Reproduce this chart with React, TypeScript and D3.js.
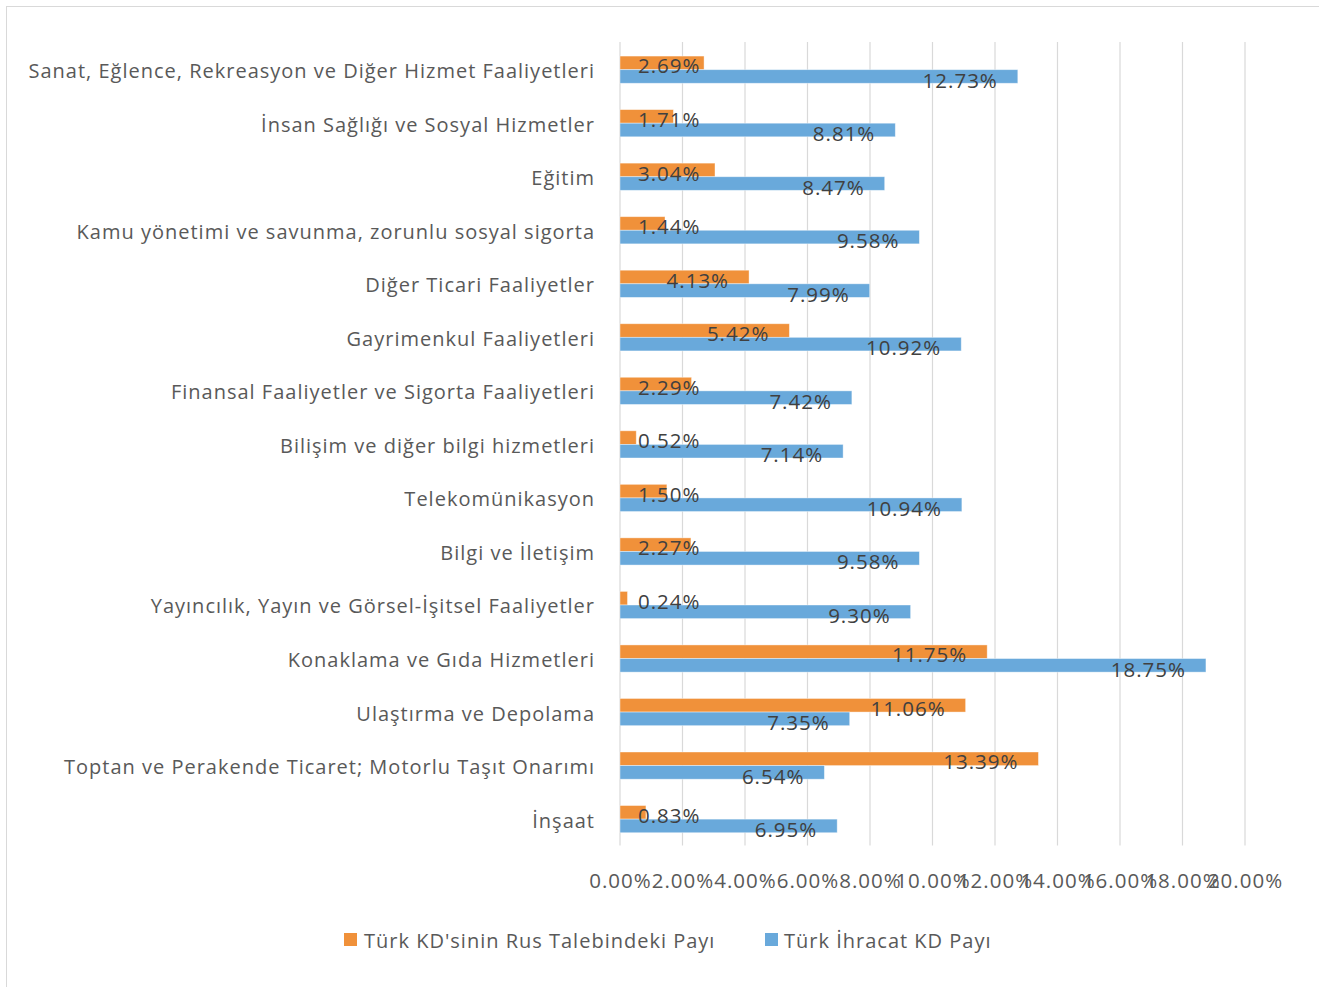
import React from 'react';
import * as d3 from 'd3';

// Sectors, listed from the top of the chart to the bottom
const categories = [
  'Sanat, Eğlence, Rekreasyon ve Diğer Hizmet Faaliyetleri',
  'İnsan Sağlığı ve Sosyal Hizmetler',
  'Eğitim',
  'Kamu yönetimi ve savunma, zorunlu sosyal sigorta',
  'Diğer Ticari Faaliyetler',
  'Gayrimenkul Faaliyetleri',
  'Finansal Faaliyetler ve Sigorta Faaliyetleri',
  'Bilişim ve diğer bilgi hizmetleri',
  'Telekomünikasyon',
  'Bilgi ve İletişim',
  'Yayıncılık, Yayın ve Görsel-İşitsel Faaliyetler',
  'Konaklama ve Gıda Hizmetleri',
  'Ulaştırma ve Depolama',
  'Toptan ve Perakende Ticaret; Motorlu Taşıt Onarımı',
  'İnşaat',
];

// Shares in percent
const rusTalebiPayi = [2.69, 1.71, 3.04, 1.44, 4.13, 5.42, 2.29, 0.52, 1.5, 2.27, 0.24, 11.75, 11.06, 13.39, 0.83];
const ihracatPayi = [12.73, 8.81, 8.47, 9.58, 7.99, 10.92, 7.42, 7.14, 10.94, 9.58, 9.3, 18.75, 7.35, 6.54, 6.95];

const xTickValues = [0, 2, 4, 6, 8, 10, 12, 14, 16, 18, 20];

const seriesNames = ["Türk KD'sinin Rus Talebindeki Payı", 'Türk İhracat KD Payı'];
const seriesColors = ['#F0913A', '#69A9DB'];

const W = 1319;
const H = 987;
const FONT = "'Open Sans', sans-serif";
const CAT_SIZE = 20;
const LABEL_SIZE = 20.5;
const TICK_SIZE = 20.5;
const SPACING = 1;

let measureCtx: CanvasRenderingContext2D | null = null;
function textWidth(text: string, size: number): number {
  if (!measureCtx) {
    const c = document.createElement('canvas');
    measureCtx = c.getContext('2d');
  }
  if (!measureCtx) return text.length * (size * 0.55 + SPACING);
  measureCtx.font = `${size}px ${FONT}`;
  return measureCtx.measureText(text).width + text.length * SPACING;
}

const fmt = (v: number) => `${v.toFixed(2)}%`;

export default function App() {
  const x = d3.scaleLinear().domain([0, 20]).range([620, 1245]);
  const y = d3.scaleBand<string>().domain(categories).range([42.5, 845.5]).padding(0);
  const barH = 13.6;

  // data label: right edge 20px inside the bar end, never left of the first inner margin
  const labelX = (v: number, text: string, size: number) => {
    const w = textWidth(text, size);
    const end = x(v) - 20;
    return Math.max(end - w, 638);
  };

  return (
    <svg
      width={W}
      height={H}
      style={{ position: 'absolute', left: 0, top: 0, background: '#fff' }}
      fontFamily={FONT}
      letterSpacing={SPACING}
    >
      <rect x={6.5} y={6.5} width={W + 10} height={H + 10} fill="#fff" stroke="#d9d9d9" strokeWidth={1} />

      {/* vertical gridlines */}
      {xTickValues.map((t) => (
        <line key={t} x1={x(t)} x2={x(t)} y1={42} y2={845.5} stroke="#d9d9d9" strokeWidth={1.2} />
      ))}

      {/* category labels */}
      {categories.map((c) => (
        <text
          key={c}
          x={595}
          y={(y(c) ?? 0) + y.bandwidth() / 2 + 3.5}
          textAnchor="end"
          dominantBaseline="middle"
          fontSize={CAT_SIZE}
          fill="#595959"
        >
          {c}
        </text>
      ))}

      {/* bars */}
      {categories.map((c, i) => {
        const cy = (y(c) ?? 0) + y.bandwidth() / 2 + 0.4;
        return (
          <g key={c}>
            <rect
              x={x(0)}
              y={cy - barH}
              width={x(rusTalebiPayi[i]) - x(0)}
              height={barH}
              fill={seriesColors[0]}
              stroke="#fff"
              strokeOpacity={0.5}
              strokeWidth={0.8}
            />
            <rect
              x={x(0)}
              y={cy}
              width={x(ihracatPayi[i]) - x(0)}
              height={barH}
              fill={seriesColors[1]}
              stroke="#fff"
              strokeOpacity={0.5}
              strokeWidth={0.8}
            />
          </g>
        );
      })}

      {/* data labels */}
      {categories.map((c, i) => {
        const cy = (y(c) ?? 0) + y.bandwidth() / 2 + 0.4;
        const t1 = fmt(rusTalebiPayi[i]);
        const t2 = fmt(ihracatPayi[i]);
        return (
          <g key={c} fontSize={LABEL_SIZE} fill="#404040">
            <text x={labelX(rusTalebiPayi[i], t1, LABEL_SIZE)} y={cy - barH + 17.4}>
              {t1}
            </text>
            <text x={labelX(ihracatPayi[i], t2, LABEL_SIZE)} y={cy + 18}>
              {t2}
            </text>
          </g>
        );
      })}

      {/* x-axis tick labels */}
      {xTickValues.map((t) => (
        <text
          key={t}
          x={x(t) + 0.5}
          y={888}
          textAnchor="middle"
          fontSize={TICK_SIZE}
          fill="#595959"
        >
          {fmt(t)}
        </text>
      ))}

      {/* legend */}
      <g fontSize={CAT_SIZE} fill="#595959">
        <rect x={344} y={933} width={13} height={13} fill={seriesColors[0]} />
        <text x={364} y={948}>
          {seriesNames[0]}
        </text>
        <rect x={765} y={933} width={13} height={13} fill={seriesColors[1]} />
        <text x={784} y={948}>
          {seriesNames[1]}
        </text>
      </g>
    </svg>
  );
}
